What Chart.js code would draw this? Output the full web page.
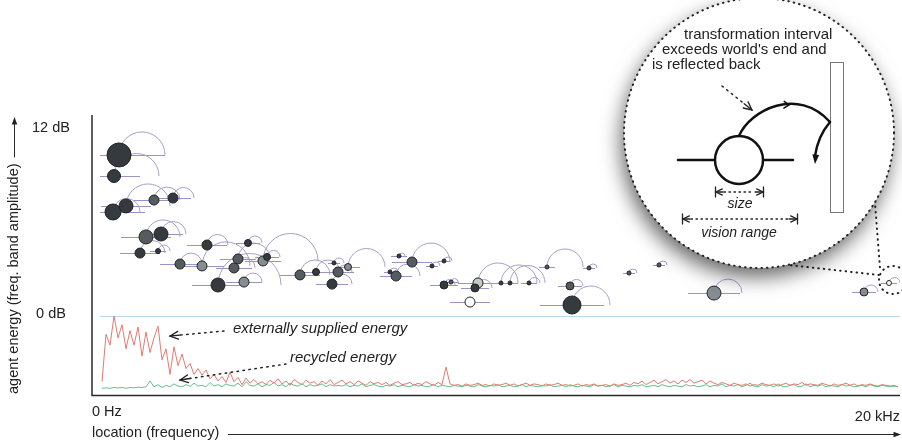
<!DOCTYPE html>
<html>
<head>
<meta charset="utf-8">
<script src="https://cdn.jsdelivr.net/npm/chart.js@4.4.1/dist/chart.umd.min.js"></script>
<style>
    html, body { margin: 0; padding: 0; background: #fff; }
    canvas { display: block; }
</style>
</head>
<body>
<canvas id="c" width="902" height="442"></canvas>
<script>
(function () {
    'use strict';

    // axis labels
    const levelTicks = [0, 12];
    const levelTickLabels = ['0 dB', '12 dB'];
    const freqTickLabels = ['0 Hz', '20 kHz'];

    // agents: centre frequency (kHz), energy (dB), size, vision half-range (kHz), transformation target (kHz)
    const agentFreq = [0.475, 0.35, 0.325, 0.65, 1.35, 1.825, 1.15, 1.525, 1.0, 1.45,
        2.675, 2.0, 2.55, 2.95, 3.6, 3.7, 3.45, 3.35, 4.075, 4.175,
        5.0, 5.4, 5.85, 5.95, 6.2, 5.8, 7.4, 7.25, 7.475, 7.8,
        8.3, 8.6, 8.6, 8.775, 9.45, 9.375, 9.25, 10.025, 10.25, 10.725,
        11.175, 12.225, 11.75, 11.8, 13.225, 13.975, 15.35, 19.1, 19.725];
    const agentLevel = [10.39, 9.03, 6.71, 7.10, 7.48, 7.61, 5.10, 5.29, 4.06, 4.19,
        4.58, 3.35, 3.23, 2.0, 2.19, 4.71, 3.68, 3.10, 3.55, 3.81,
        2.65, 2.84, 3.42, 2.84, 3.16, 2.06, 2.58, 2.84, 3.87, 3.48,
        3.23, 3.55, 2.0, 2.19, 2.13, 1.81, 0.90, 2.13, 2.13, 2.13,
        3.16, 3.10, 1.94, 0.71, 2.77, 3.29, 1.48, 1.55, 2.13];
    const agentSize = [12, 6.5, 8, 7, 5, 5, 7, 7, 5, 2.5,
        5, 5, 5, 7, 5, 3.5, 5, 5, 5, 3.5,
        5, 3.5, 2, 5, 3.5, 5, 5, 2, 2, 5,
        2, 2, 4, 2, 5, 4, 5, 2, 2, 2,
        2, 2, 4, 9, 2, 2, 7, 4, 2.5];
    const agentVision = [1.15, 0.65, 0.8, 0.625, 0.5, 0.45, 0.625, 0.55, 0.5, 0.2,
        0.5, 0.5, 0.55, 0.65, 0.45, 0.3, 0.45, 0.45, 0.45, 0.3,
        0.5, 0.35, 0.15, 0.4, 0.3, 0.4, 0.4, 0.15, 0.2, 0.5,
        0.15, 0.15, 0.35, 0.2, 0.5, 0.35, 0.5, 0.2, 0.2, 0.2,
        0.2, 0.15, 0.3, 0.8, 0.15, 0.15, 0.65, 0.3, 0.2];
    const agentTarget = [1.625, 1.475, 1.0, 1.75, 2.0, 2.35, 2.0, 2.15, 1.625, 1.75,
        3.2, 2.55, 3.75, 4.525, 4.05, 4.05, 4.25, 3.875, 5.45, 4.5,
        5.75, 6.0, 6.1, 6.3, 7.125, 6.3, 8.0, 7.45, 7.625, 8.75,
        8.5, 8.8, 8.875, 8.95, 10.45, 9.8, 9.25, 10.925, 11.125, 11.0,
        12.075, 12.425, 12.075, 12.75, 13.425, 14.175, 16.05, 19.45, 20.0];

    // band energy, 0.1 kHz steps starting at 0.05 kHz (10 = 0 dB line)
    const energyStart = 0.05;
    const energyStep = 0.1;
    const externalEnergy = [1.0, 7.5, 6.0, 10.0, 7.0, 8.8, 5.5, 8.0, 6.0, 8.5, 4.5, 7.8, 5.0, 7.0, 8.6, 4.0, 5.5, 2.0, 5.8, 3.2,
        4.8, 2.8, 3.5, 2.0, 2.8, 1.9, 2.6, 1.4, 2.0, 1.1, 1.7, 0.9, 2.3, 1.0, 1.6, 0.6, 1.5, 0.8, 1.3, 0.7,
        1.0, 0.6, 1.2, 0.8, 1.4, 0.7, 1.1, 0.5, 1.3, 0.9, 0.6, 1.2, 0.8, 1.0, 0.5, 1.1, 0.7, 1.3, 0.6, 0.9,
        1.2, 0.7, 1.0, 0.6, 1.1, 0.8, 0.5, 1.0, 0.7, 0.9,
        0.6, 0.9, 0.5, 0.8, 1.0, 0.6, 0.7, 0.9, 0.5, 0.8, 0.6, 1.0, 0.7, 0.5, 0.9, 0.6, 3.0, 0.7, 0.5, 0.6,
        0.4, 0.7, 0.5, 0.6, 0.8, 0.5, 0.6, 0.4, 0.7, 0.5,
        0.6, 0.8, 0.5, 0.7, 0.4, 0.6, 0.8, 0.5, 0.7, 0.6, 0.4, 0.7, 0.5, 0.6, 0.8, 0.5, 0.6, 0.4, 0.5, 0.7,
        0.4, 0.6, 0.5, 0.7, 0.4, 0.5, 0.6, 0.4, 0.7, 0.5,
        0.6, 0.8, 0.5, 0.9, 0.7, 1.1, 0.6, 0.9, 1.2, 0.7, 1.0, 1.3, 0.8, 1.1, 0.7, 1.2, 0.9, 1.3, 0.8, 1.0,
        1.2, 0.7, 1.1, 0.8, 0.6, 0.9, 0.7, 0.5, 0.8, 0.6,
        0.5, 0.7, 0.4, 0.6, 0.5, 0.8, 0.6, 0.5, 0.7, 0.4, 0.6, 0.8, 0.5, 0.7, 0.6, 0.9, 0.5, 0.7, 0.6, 0.5,
        0.8, 0.6, 0.4, 0.7, 0.5, 0.6, 0.8, 0.5, 0.7, 0.4, 0.6, 0.5, 0.7, 0.5, 0.4, 0.6, 0.5, 0.4, 0.5, 0.3];
    const recycledEnergy = [0.1, 0.15, 0.1, 0.2, 0.15, 0.2, 0.1, 0.2, 0.15, 0.25, 0.2, 0.3, 1.1, 0.3, 0.6, 0.2, 0.5, 0.3, 0.7, 0.4,
        0.3, 0.6, 0.35, 0.8, 0.4, 0.5, 0.3, 0.9, 0.4, 0.6,
        0.3, 0.7, 0.5, 0.4, 0.8, 0.3, 1.0, 0.5, 0.4, 0.7, 0.3, 0.6, 0.5, 0.9, 0.4, 0.6, 0.3, 0.8, 0.5, 0.4,
        0.7, 0.3, 0.6, 0.4, 0.5, 0.7, 0.3, 0.6, 0.4, 0.5,
        0.4, 0.6, 0.3, 0.5, 0.4, 0.7, 0.3, 0.5, 0.6, 0.4, 0.3, 0.5, 0.4, 0.6, 0.3, 0.5, 0.4, 0.3, 0.6, 0.4,
        0.5, 0.3, 0.4, 0.6, 0.3, 0.5, 0.4, 0.3, 0.5, 0.4,
        0.3, 0.5, 0.4, 0.3, 0.6, 0.4, 0.3, 0.5, 0.4, 0.6, 0.3, 0.4, 0.5, 0.3, 0.4, 0.6, 0.3, 0.5, 0.4, 0.3,
        0.5, 0.4, 0.6, 0.3, 0.4, 0.5, 0.3, 0.6, 0.4, 0.3,
        0.5, 0.4, 0.3, 0.6, 0.4, 0.5, 0.3, 0.4, 0.6, 0.3, 0.5, 0.4, 0.3, 0.5, 0.4, 0.6, 0.3, 0.4, 0.5, 0.3,
        0.6, 0.4, 0.3, 0.5, 0.4, 0.3, 0.6, 0.4, 0.5, 0.3,
        0.4, 0.6, 0.3, 0.5, 0.4, 0.7, 0.3, 0.5, 0.4, 0.6, 0.3, 0.5, 0.8, 0.4, 0.3, 0.6, 0.4, 0.5, 0.3, 0.7,
        0.4, 0.3, 0.5, 0.6, 0.3, 0.4, 0.7, 0.3, 0.5, 0.4, 0.6, 0.3, 0.5, 0.4, 0.3, 0.6, 0.4, 0.5, 0.3, 0.4,
        0.5, 0.3, 0.6, 0.4, 0.3, 0.5, 0.4, 0.3, 0.4, 0.3];

    // styles
    const SHADE = { d: '#343a3d', m: '#555c60', l: '#868d92', p: '#c4c9cc', w: '#ffffff' };
    const agentShades = ['d', 'd', 'd', 'd', 'm', 'd', 'm', 'd', 'd', 'd',
        'd', 'm', 'l', 'd', 'l', 'd', 'm', 'm', 'l', 'd',
        'm', 'd', 'd', 'm', 'l', 'd', 'm', 'd', 'd', 'm',
        'd', 'd', 'd', 'm', 'p', 'd', 'w', 'd', 'd', 'd',
        'm', 'm', 'm', 'd', 'm', 'm', 'l', 'l', 'w'];
    const ARC_COLOR = '#a79fca';
    const VISION_COLOR = '#9c93c3';
    const INK = '#222';
    const FONT = '"Liberation Sans", Arial, Helvetica, sans-serif';

    function arrowHead(ctx, x, y, ang, len, spread, filled) {
        ctx.beginPath();
        ctx.moveTo(x - len * Math.cos(ang - spread), y - len * Math.sin(ang - spread));
        ctx.lineTo(x, y);
        ctx.lineTo(x - len * Math.cos(ang + spread), y - len * Math.sin(ang + spread));
        if (filled) { ctx.closePath(); ctx.fill(); } else { ctx.stroke(); }
    }

    function dottedArrow(ctx, x1, y1, x2, y2) {
        const ang = Math.atan2(y2 - y1, x2 - x1);
        ctx.save();
        ctx.strokeStyle = INK;
        ctx.lineWidth = 1.5;
        ctx.lineCap = 'round';
        ctx.setLineDash([1.5, 4.5]);
        ctx.beginPath();
        ctx.moveTo(x1, y1);
        ctx.lineTo(x2 - 10 * Math.cos(ang), y2 - 10 * Math.sin(ang));
        ctx.stroke();
        ctx.setLineDash([]);
        ctx.lineWidth = 1.3;
        ctx.beginPath();
        ctx.moveTo(x2 - 10 * Math.cos(ang), y2 - 10 * Math.sin(ang));
        ctx.lineTo(x2, y2);
        ctx.stroke();
        arrowHead(ctx, x2, y2, ang, 9, 0.45, false);
        ctx.restore();
    }

    function dimension(ctx, x1, x2, y) {
        ctx.save();
        ctx.strokeStyle = INK;
        ctx.lineWidth = 1.3;
        ctx.beginPath();
        ctx.moveTo(x1 + 0.5, y - 5); ctx.lineTo(x1 + 0.5, y + 5);
        ctx.moveTo(x2 + 0.5, y - 5); ctx.lineTo(x2 + 0.5, y + 5);
        ctx.stroke();
        ctx.setLineDash([1.5, 3.5]);
        ctx.beginPath();
        ctx.moveTo(x1 + 9, y); ctx.lineTo(x2 - 9, y);
        ctx.stroke();
        ctx.setLineDash([]);
        ctx.beginPath();
        ctx.moveTo(x1 + 1, y); ctx.lineTo(x1 + 8, y);
        ctx.moveTo(x2 - 8, y); ctx.lineTo(x2, y);
        ctx.stroke();
        arrowHead(ctx, x1 + 1, y, Math.PI, 7, 0.45, false);
        arrowHead(ctx, x2, y, 0, 7, 0.45, false);
        ctx.restore();
    }

    const agentArt = {
        id: 'agentArt',
        beforeDatasetsDraw(chart) {
            const { ctx, chartArea: a, scales: { x, y } } = chart;
            ctx.save();
            ctx.beginPath();
            ctx.rect(a.left, 0, a.right - a.left, a.bottom);
            ctx.clip();

            const zero = Math.round(y.getPixelForValue(0)) + 0.5;
            ctx.strokeStyle = '#bcd6ea';
            ctx.lineWidth = 1;
            ctx.beginPath();
            ctx.moveTo(a.left, zero); ctx.lineTo(a.right, zero);
            ctx.stroke();

            ctx.lineWidth = 1;
            ctx.strokeStyle = ARC_COLOR;
            agentFreq.forEach((f, i) => {
                const px = x.getPixelForValue(f);
                const py = y.getPixelForValue(agentLevel[i]);
                const tx = x.getPixelForValue(agentTarget[i]);
                const r = Math.abs(tx - px) / 2;
                if (r < 1) return;
                ctx.beginPath();
                ctx.arc((px + tx) / 2, py, r, Math.PI, 2 * Math.PI);
                ctx.stroke();
            });

            ctx.strokeStyle = VISION_COLOR;
            agentFreq.forEach((f, i) => {
                const py = Math.round(y.getPixelForValue(agentLevel[i])) + 0.5;
                ctx.beginPath();
                ctx.moveTo(x.getPixelForValue(f - agentVision[i]), py);
                ctx.lineTo(x.getPixelForValue(f + agentVision[i]), py);
                ctx.stroke();
            });
            ctx.restore();
        }
    };

    function drawInset(ctx) {
        const cx = 759, cy = 133, R = 135;
        ctx.save();
        // dotted pointers to the zoomed corner
        ctx.strokeStyle = INK;
        ctx.lineWidth = 2;
        ctx.lineCap = 'round';
        ctx.setLineDash([0.5, 5]);
        ctx.beginPath();
        ctx.moveTo(874, 190); ctx.lineTo(880, 268);
        ctx.moveTo(780, 264); ctx.lineTo(879, 275);
        ctx.stroke();
        ctx.beginPath();
        ctx.arc(893, 280, 14, 0, 2 * Math.PI);
        ctx.stroke();
        ctx.setLineDash([]);

        ctx.shadowColor = 'rgba(0,0,0,0.6)';
        ctx.shadowBlur = 20;
        ctx.shadowOffsetX = -3;
        ctx.shadowOffsetY = 9;
        ctx.fillStyle = '#fff';
        ctx.beginPath();
        ctx.arc(cx, cy, R, 0, 2 * Math.PI);
        ctx.fill();
        ctx.shadowColor = 'transparent';

        ctx.setLineDash([0.5, 5]);
        ctx.lineWidth = 2;
        ctx.beginPath();
        ctx.arc(cx, cy, R, 0, 2 * Math.PI);
        ctx.stroke();
        ctx.setLineDash([]);

        // wall at world's end
        ctx.strokeStyle = '#777';
        ctx.lineWidth = 1;
        ctx.strokeRect(830.5, 62.5, 13, 150);

        // agent with vision range
        ctx.strokeStyle = '#111';
        ctx.lineWidth = 2.5;
        ctx.beginPath();
        ctx.moveTo(678, 160); ctx.lineTo(793, 160);
        ctx.stroke();
        ctx.fillStyle = '#fff';
        ctx.beginPath();
        ctx.arc(739, 160, 24, 0, 2 * Math.PI);
        ctx.fill();
        ctx.stroke();

        // reflected transformation interval
        ctx.beginPath();
        ctx.moveTo(739, 136);
        ctx.bezierCurveTo(750, 110, 798, 86, 830, 122);
        ctx.stroke();
        ctx.beginPath();
        ctx.moveTo(830, 122);
        ctx.quadraticCurveTo(818, 136, 815, 156);
        ctx.stroke();
        ctx.fillStyle = '#111';
        arrowHead(ctx, 815, 164, Math.PI / 2 + 0.08, 10, 0.35, true);
        ctx.lineWidth = 1.5;
        arrowHead(ctx, 789, 105, 0.05, 6, 0.6, false);

        dottedArrow(ctx, 722, 86, 752, 110);
        dimension(ctx, 715, 763, 192);
        dimension(ctx, 682, 797, 219);

        ctx.fillStyle = INK;
        ctx.textBaseline = 'middle';
        ctx.textAlign = 'left';
        ctx.font = '15px ' + FONT;
        ctx.fillText('transformation interval', 684, 35);
        ctx.fillText("exceeds world's end and", 662, 50);
        ctx.fillText('is reflected back', 652, 65);
        ctx.textAlign = 'center';
        ctx.font = 'italic 14px ' + FONT;
        ctx.fillText('size', 740, 204);
        ctx.fillText('vision range', 739, 233);
        ctx.restore();
    }

    const annotations = {
        id: 'annotations',
        afterDraw(chart) {
            const { ctx, chartArea: a, scales: { x, y } } = chart;
            ctx.save();
            // axes
            ctx.strokeStyle = '#2a2a2a';
            ctx.lineWidth = 1.5;
            ctx.beginPath();
            ctx.moveTo(92, 115); ctx.lineTo(92, 395.5); ctx.lineTo(a.right, 395.5);
            ctx.stroke();

            ctx.fillStyle = INK;
            ctx.font = '14.5px ' + FONT;
            ctx.textBaseline = 'middle';
            ctx.textAlign = 'center';
            levelTicks.forEach((v, i) => {
                ctx.fillText(levelTickLabels[i], 51, y.getPixelForValue(v) - 2);
            });
            ctx.textAlign = 'left';
            ctx.fillText(freqTickLabels[0], 92, 412);
            ctx.textAlign = 'right';
            ctx.fillText(freqTickLabels[1], x.getPixelForValue(20), 417);

            // x title with arrow
            ctx.textAlign = 'left';
            ctx.fillText('location (frequency)', 92, 433);
            ctx.lineWidth = 1;
            ctx.beginPath();
            ctx.moveTo(228, 434.5); ctx.lineTo(894, 434.5);
            ctx.stroke();
            arrowHead(ctx, 901, 434.5, 0, 8, 0.35, true);

            // y title with arrow
            ctx.save();
            ctx.translate(14, 394);
            ctx.rotate(-Math.PI / 2);
            ctx.textAlign = 'left';
            const title = 'agent energy (freq. band amplitude)';
            ctx.fillText(title, 0, 0);
            const w = ctx.measureText(title).width;
            ctx.beginPath();
            ctx.moveTo(w + 6, 0.5); ctx.lineTo(270, 0.5);
            ctx.stroke();
            arrowHead(ctx, 277, 0.5, 0, 8, 0.35, true);
            ctx.restore();

            // energy curve labels
            ctx.font = 'italic 15px ' + FONT;
            ctx.textAlign = 'left';
            ctx.fillText('externally supplied energy', 233, 329);
            ctx.fillText('recycled energy', 290, 358);
            dottedArrow(ctx, 224, 331, 170, 336);
            dottedArrow(ctx, 286, 364, 180, 380);

            drawInset(ctx);
            ctx.restore();
        }
    };

    const agents = agentFreq.map((f, i) => ({ x: f, y: agentLevel[i], r: agentSize[i] }));
    const toSeries = vals => vals.map((v, i) => ({ x: energyStart + i * energyStep, y: v }));

    new Chart(document.getElementById('c'), {
        type: 'bubble',
        data: {
            datasets: [
                {
                    type: 'bubble',
                    data: agents,
                    backgroundColor: agentShades.map(s => SHADE[s]),
                    borderColor: '#1f2325',
                    borderWidth: 1,
                    clip: false,
                    order: 0
                },
                {
                    type: 'line',
                    data: toSeries(externalEnergy),
                    yAxisID: 'e',
                    borderColor: '#dc7d72',
                    borderWidth: 1,
                    pointRadius: 0,
                    tension: 0,
                    order: 1
                },
                {
                    type: 'line',
                    data: toSeries(recycledEnergy),
                    yAxisID: 'e',
                    borderColor: '#63c18d',
                    borderWidth: 1,
                    pointRadius: 0,
                    tension: 0,
                    order: 2
                }
            ]
        },
        options: {
            responsive: false,
            animation: false,
            events: [],
            layout: { autoPadding: false, padding: { left: 100, right: 2, top: 100, bottom: 53 } },
            plugins: { legend: { display: false }, tooltip: { enabled: false } },
            scales: {
                x: { type: 'linear', min: 0, max: 20, display: false },
                y: { type: 'linear', min: -4.71, max: 13.935, display: false },
                e: { type: 'linear', min: 0, max: 39.59, display: false }
            }
        },
        plugins: [agentArt, annotations]
    });
})();
</script>
</body>
</html>
